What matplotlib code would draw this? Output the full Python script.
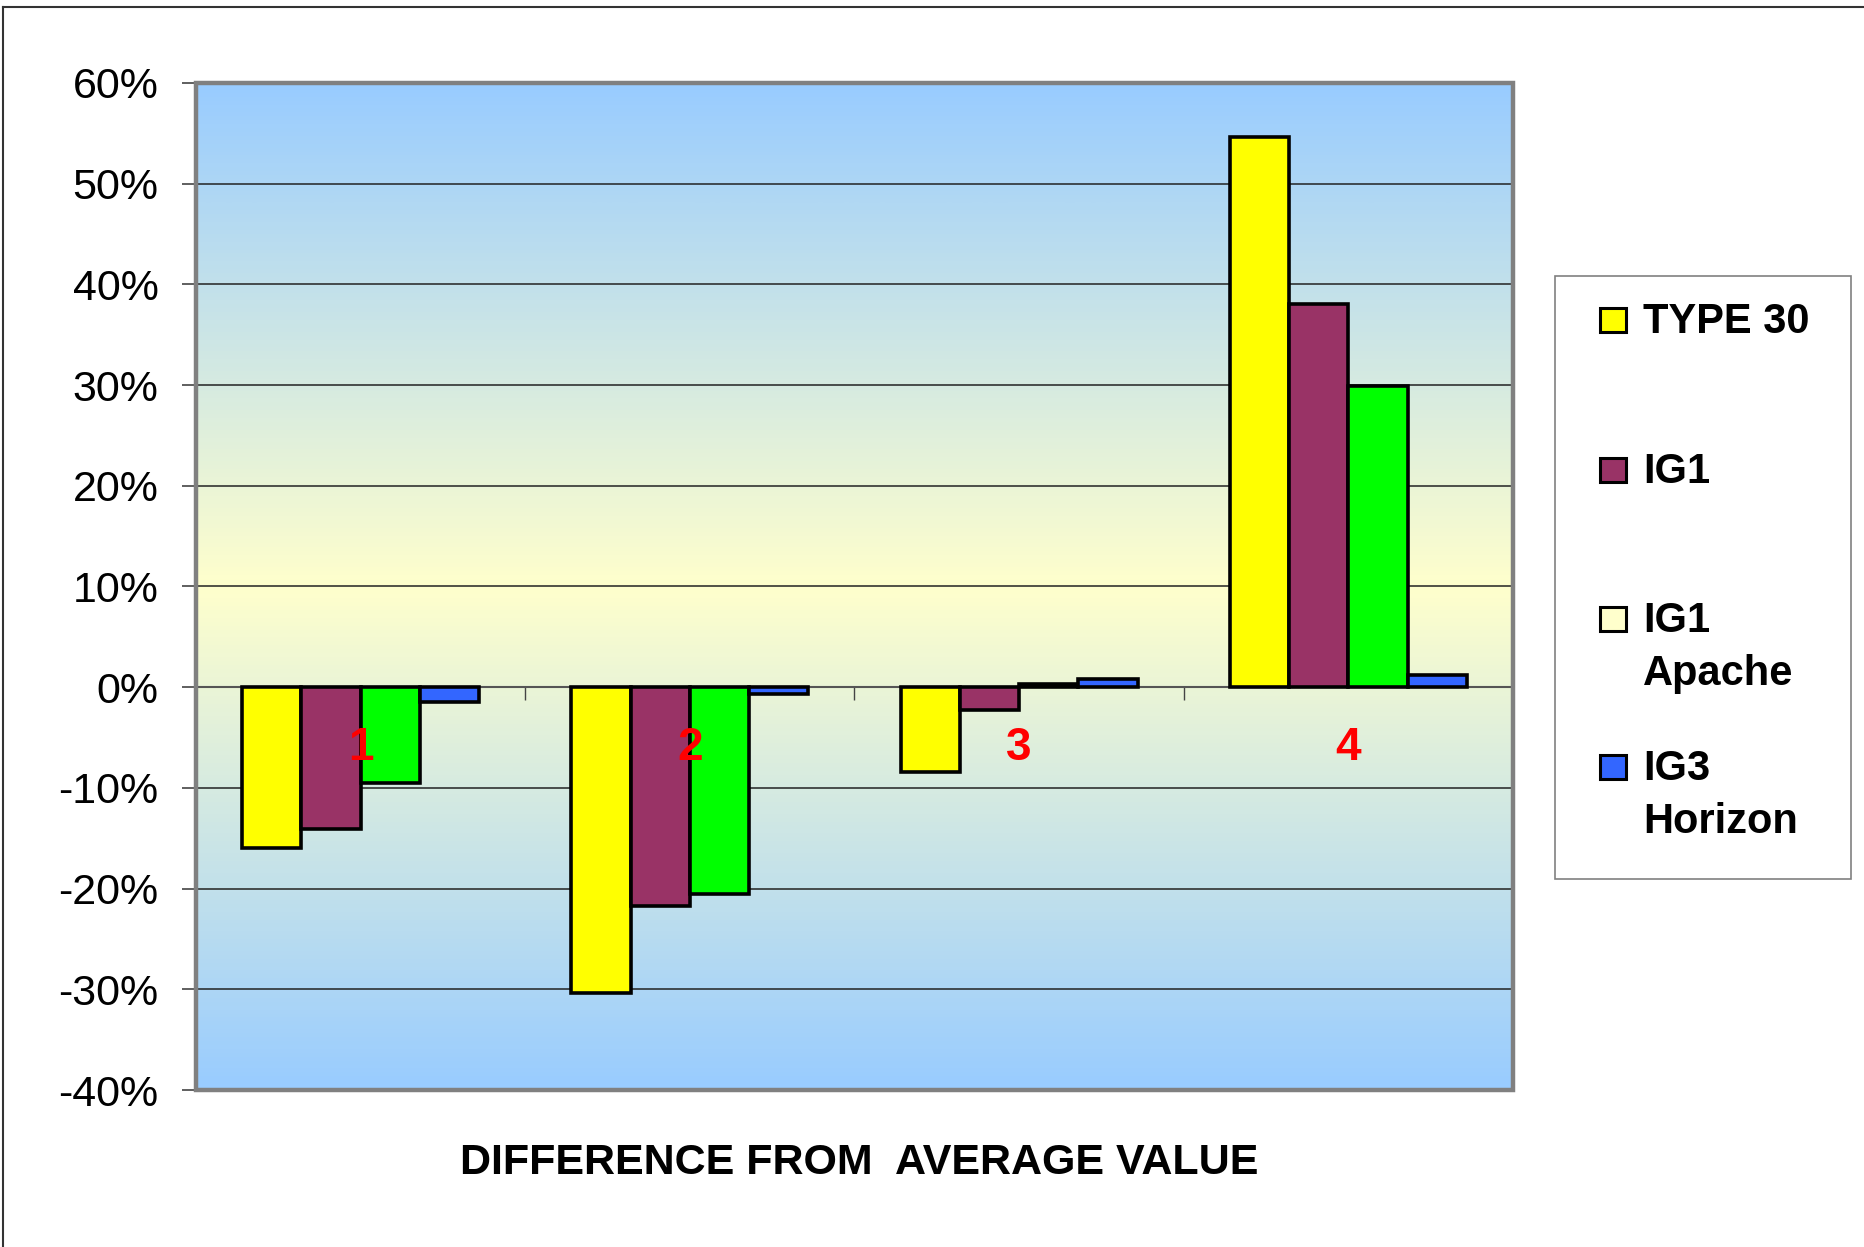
import numpy as np
import matplotlib
matplotlib.use('Agg')
import matplotlib.pyplot as plt
from matplotlib.colors import LinearSegmentedColormap
from matplotlib.patches import Rectangle
from matplotlib.lines import Line2D

plt.rcParams['font.family'] = ['Liberation Sans', 'DejaVu Sans']
plt.rcParams['axes.unicode_minus'] = False

# data (percent difference from average)
categories = ['1', '2', '3', '4']
type30 = [-16.0, -30.4, -8.4, 54.6]
ig1 = [-14.1, -21.7, -2.3, 38.1]
ig1_apache = [-9.5, -20.5, 0.3, 29.9]
ig3_horizon = [-1.5, -0.7, 0.8, 1.2]
series = [type30, ig1, ig1_apache, ig3_horizon]
bar_colors = ['#FFFF00', '#993366', '#00FF00', '#3366FF']
legend_labels = ['TYPE 30', 'IG1', 'IG1\nApache', 'IG3\nHorizon']
legend_colors = ['#FFFF00', '#993366', '#FFFFCC', '#3366FF']
yticks = [-40, -30, -20, -10, 0, 10, 20, 30, 40, 50, 60]

W, H = 1865, 1247
fig = plt.figure(figsize=(W / 100, H / 100), dpi=100)
ax = fig.add_axes([196 / W, 1 - 1090 / H, (1513 - 196) / W, (1090 - 83) / H])

# gradient background: blue - pale yellow - blue
cmap = LinearSegmentedColormap.from_list('bg', ['#99CCFF', '#FFFFCC', '#99CCFF'])
grad = np.linspace(0, 1, 256).reshape(-1, 1)
ax.imshow(grad, cmap=cmap, aspect='auto', extent=[0, 1, 0, 1],
          transform=ax.transAxes, zorder=0, interpolation='bicubic')

x = np.arange(len(categories)) + 0.5
w = 0.18
for i, (vals, c) in enumerate(zip(series, bar_colors)):
    ax.bar(x + (i - 1.5) * w, vals, w, color=c, edgecolor='black',
           linewidth=2.6, zorder=3)

ax.set_xlim(0, 4)
ax.set_ylim(-40, 60)
ax.set_yticks(yticks)
ax.set_yticklabels([f'{t}%' for t in yticks], fontsize=31)
ax.yaxis.grid(True, color='#222222', linewidth=1.1, zorder=1)
ax.set_axisbelow(True)
ax.tick_params(axis='y', length=10, width=1.2, color='#444444', pad=17)

# x axis crossing at zero, ticks between categories
ax.spines['bottom'].set_position(('data', 0))
ax.spines['bottom'].set_color('#555555')
ax.spines['bottom'].set_linewidth(1.5)
ax.set_xticks([1, 2, 3])
ax.set_xticklabels([])
ax.tick_params(axis='x', direction='out', length=9, width=1.0, color='#444444')
for s in ['top', 'right', 'left']:
    ax.spines[s].set_visible(False)
ax.add_patch(Rectangle((0, 0), 1, 1, transform=ax.transAxes, fill=False,
                       edgecolor='#808080', linewidth=3.2, zorder=5, clip_on=False))

for xi, lab in zip(x, categories):
    ax.text(xi, -6.0, lab, color='#FF0000', fontsize=33, fontweight='bold',
            ha='center', va='center', zorder=6)

fig.text(859 / W, 1 - 1163 / H, 'DIFFERENCE FROM  AVERAGE VALUE', fontsize=31,
         fontweight='bold', ha='center', va='center')

# legend box
fig.add_artist(Rectangle((1555 / W, 1 - 879 / H), (1851 - 1555) / W, (879 - 276) / H,
                         transform=fig.transFigure, fill=False,
                         edgecolor='#808080', linewidth=1.2))
entry_y = [320, 470, 619, 767]
for lab, c, ey in zip(legend_labels, legend_colors, entry_y):
    fig.add_artist(Rectangle((1600 / W, 1 - (ey + 12) / H), 26 / W, 24 / H,
                             transform=fig.transFigure, facecolor=c,
                             edgecolor='black', linewidth=2.2))
    fig.text(1643 / W, 1 - (ey - 18) / H, lab, fontsize=30, fontweight='bold',
             ha='left', va='top', linespacing=1.42)

# outer frame (top and left edges visible)
fig.add_artist(Line2D([3 / W, 3 / W], [0, 1 - 7 / H], transform=fig.transFigure,
                      color='#333333', linewidth=1.5))
fig.add_artist(Line2D([3 / W, 1], [1 - 7 / H, 1 - 7 / H], transform=fig.transFigure,
                      color='#333333', linewidth=1.5))

fig.savefig('out.png', dpi=100)
